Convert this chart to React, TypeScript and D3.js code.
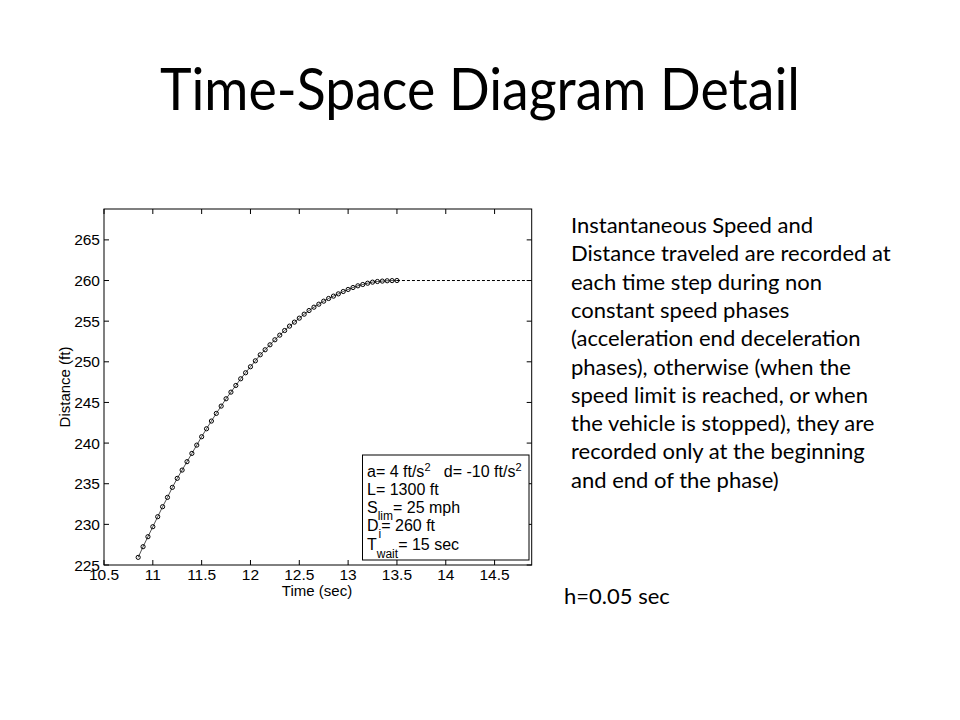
import React from "react";
import * as d3 from "d3";

const timeSec = [
  10.85, 10.9, 10.95, 11.0, 11.05, 11.1, 11.15, 11.2, 11.25, 11.3,
  11.35, 11.4, 11.45, 11.5, 11.55, 11.6, 11.65, 11.7, 11.75, 11.8,
  11.85, 11.9, 11.95, 12.0, 12.05, 12.1, 12.15, 12.2, 12.25, 12.3,
  12.35, 12.4, 12.45, 12.5, 12.55, 12.6, 12.65, 12.7, 12.75, 12.8,
  12.85, 12.9, 12.95, 13.0, 13.05, 13.1, 13.15, 13.2, 13.25, 13.3,
  13.35, 13.4, 13.45, 13.5,
];
const distanceFt = [
  225.94, 227.25, 228.48, 229.71, 230.94, 232.17, 233.32, 234.55, 235.66, 236.68,
  237.71, 238.73, 239.75, 240.78, 241.76, 242.71, 243.65, 244.55, 245.45, 246.27,
  247.09, 247.91, 248.65, 249.39, 250.12, 250.86, 251.48, 252.09, 252.71, 253.28,
  253.85, 254.39, 254.88, 255.37, 255.86, 256.31, 256.72, 257.09, 257.46, 257.79,
  258.08, 258.36, 258.65, 258.9, 259.14, 259.35, 259.51, 259.67, 259.8, 259.88,
  259.93, 259.97, 259.99, 260.0,
];
const waitTime = [13.5, 14.88];
const waitDistance = [260, 260];
const xTicks = [10.5, 11, 11.5, 12, 12.5, 13, 13.5, 14, 14.5];
const yTicks = [225, 230, 235, 240, 245, 250, 255, 260, 265];
const xDomain = [10.5, 14.88];
const yDomain = [225, 268.8];

const titleText = "Time-Space Diagram Detail";
const noteLines = [
  "Instantaneous Speed and",
  "Distance traveled are recorded at",
  "each time step during non",
  "constant speed phases",
  "(acceleration end deceleration",
  "phases), otherwise (when the",
  "speed limit is reached, or when",
  "the vehicle is stopped), they are",
  "recorded only at the beginning",
  "and end of the phase)",
];
const stepText = "h=0.05 sec";

export default function App() {
  const left = 104, right = 531.7, top = 209, bottom = 565;
  const x = d3.scaleLinear().domain(xDomain).range([left, right]);
  const y = d3.scaleLinear().domain(yDomain).range([bottom, top]);
  const pts = timeSec.map((t, i) => [t, distanceFt[i]] as [number, number]);
  const line = d3.line<[number, number]>().x((d) => x(d[0])).y((d) => y(d[1]));
  const waitPts = waitTime.map((t, i) => [t, waitDistance[i]] as [number, number]);
  const axisFont = "'Liberation Sans', Arial, sans-serif";
  const bodyFont = "Lato, 'Open Sans', sans-serif";
  const tl = 5;
  const gap = "\u00a0\u00a0\u00a0";

  return (
    <svg width={960} height={720} style={{ position: "absolute", left: 0, top: 0, background: "#fff" }}>
      <rect x={0} y={0} width={960} height={720} fill="#fff" />
      <text x={480} y={110} textAnchor="middle" fontFamily={bodyFont} fontSize={58} fill="#000"
        textLength={640} lengthAdjust="spacingAndGlyphs">{titleText}</text>

      {/* plot frame */}
      <rect x={left} y={top} width={right - left} height={bottom - top} fill="none" stroke="#000" strokeWidth={1} />
      {xTicks.map((t) => (
        <g key={"xt" + t}>
          <line x1={x(t)} x2={x(t)} y1={bottom} y2={bottom - tl} stroke="#000" />
          <line x1={x(t)} x2={x(t)} y1={top} y2={top + tl} stroke="#000" />
          <text x={x(t)} y={580} textAnchor="middle" fontFamily={axisFont} fontSize={15.5} fill="#000">{String(t)}</text>
        </g>
      ))}
      {yTicks.map((v) => (
        <g key={"yt" + v}>
          <line x1={left} x2={left + tl} y1={y(v)} y2={y(v)} stroke="#000" />
          <line x1={right} x2={right - tl} y1={y(v)} y2={y(v)} stroke="#000" />
          <text x={100} y={y(v)} dy="0.36em" textAnchor="end" fontFamily={axisFont} fontSize={15.5} fill="#000">{String(v)}</text>
        </g>
      ))}
      <text x={317} y={596} textAnchor="middle" fontFamily={axisFont} fontSize={15} fill="#000">Time (sec)</text>
      <text transform={`translate(70,387) rotate(-90)`} textAnchor="middle" fontFamily={axisFont} fontSize={15} fill="#000">Distance (ft)</text>

      {/* data */}
      <path d={line(pts) || ""} fill="none" stroke="#000" strokeWidth={0.7} />
      {pts.map((p, i) => (
        <circle key={"p" + i} cx={x(p[0])} cy={y(p[1])} r={2.1} fill="none" stroke="#000" strokeWidth={1} />
      ))}
      <path d={line(waitPts) || ""} fill="none" stroke="#000" strokeWidth={1} strokeDasharray="3,2" />

      {/* legend */}
      <rect x={362.5} y={455} width={166.5} height={105} fill="#fff" stroke="#000" strokeWidth={1} />
      <g fontFamily={axisFont} fontSize={16} fill="#000">
        <text x={367} y={477}>
          a= 4 ft/s<tspan dy={-6} fontSize={11}>2</tspan>
          <tspan dy={6}>{gap + "d= -10 ft/s"}</tspan><tspan dy={-6} fontSize={11}>2</tspan>
        </text>
        <text x={367} y={495}>L= 1300 ft</text>
        <text x={367} y={513}>
          S<tspan dy={7} fontSize={12}>lim</tspan><tspan dy={-7}>= 25 mph</tspan>
        </text>
        <text x={367} y={531}>
          D<tspan dy={7} fontSize={12}>i</tspan><tspan dy={-7}>= 260 ft</tspan>
        </text>
        <text x={367} y={550}>
          T<tspan dy={8} fontSize={12}>wait</tspan><tspan dy={-8}>= 15 sec</tspan>
        </text>
      </g>

      {/* notes */}
      <g fontFamily={bodyFont} fontSize={22} fill="#000">
        {noteLines.map((s, i) => (
          <text key={"n" + i} x={571} y={233 + i * 28.3}>{s}</text>
        ))}
        <text x={564} y={604}>{stepText}</text>
      </g>
    </svg>
  );
}
